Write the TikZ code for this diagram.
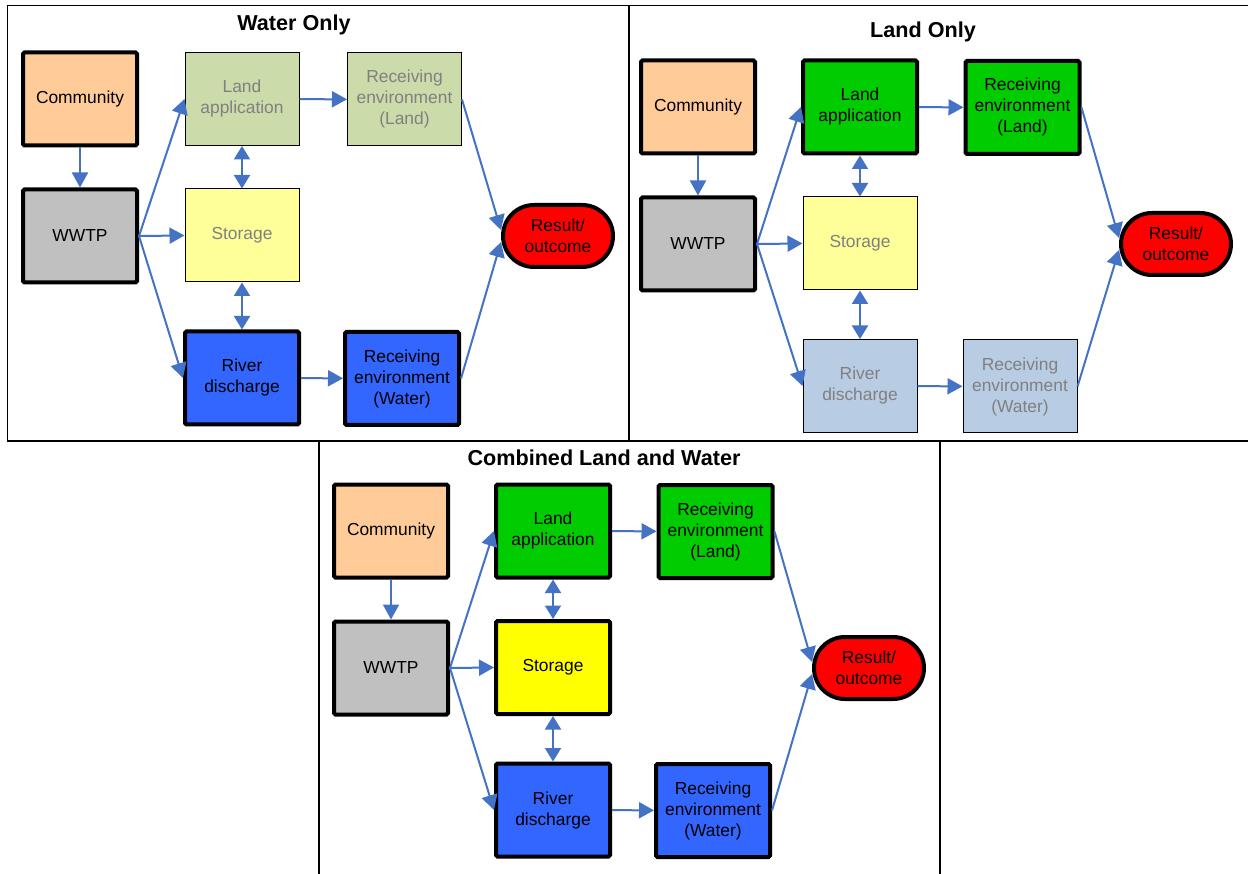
\documentclass[tikz,border=0pt]{standalone}
\usepackage{fontspec}
\setmainfont{Liberation Sans}
\usetikzlibrary{arrows.meta}
\definecolor{arrowblue}{RGB}{68,114,196}
\definecolor{compeach}{RGB}{255,204,153}
\definecolor{wwtpgrey}{RGB}{192,192,192}
\definecolor{landgreen}{RGB}{0,204,0}
\definecolor{landfade}{RGB}{204,219,170}
\definecolor{stfade}{RGB}{255,255,153}
\definecolor{stfull}{RGB}{255,255,0}
\definecolor{waterblue}{RGB}{51,102,255}
\definecolor{waterfade}{RGB}{184,204,228}
\definecolor{fadetext}{RGB}{128,128,128}
\definecolor{resred}{RGB}{255,0,0}
\tikzset{
  basebox/.style={rectangle, minimum width=114pt, minimum height=93pt, align=center,
    inner sep=0pt, font=\fontsize{17.4}{21}\selectfont},
  thickbox/.style={basebox, draw=black, line width=4pt, text=black, rounded corners=1.5pt},
  thinbox/.style={basebox, draw=black, line width=1pt, text=fadetext},
  combox/.style={thickbox, fill=compeach},
  wwtpbox/.style={thickbox, fill=wwtpgrey},
  landon/.style={thickbox, fill=landgreen},
  landoff/.style={thinbox, fill=landfade},
  ston/.style={thickbox, fill=stfull},
  stoff/.style={thinbox, fill=stfade},
  wateron/.style={thickbox, fill=waterblue},
  wateroff/.style={thinbox, fill=waterfade},
  resbox/.style={rectangle, minimum width=110pt, minimum height=62pt, rounded corners=30.9pt,
    draw=black, line width=4pt, fill=resred, align=center, inner sep=0pt,
    font=\fontsize{17.4}{21}\selectfont},
  flow/.style={draw=arrowblue, line width=2pt, -{Triangle[width=16pt,length=15pt]}},
  bi/.style={draw=arrowblue, line width=2pt,
    {Triangle[width=16pt,length=13.5pt]}-{Triangle[width=16pt,length=13.5pt]}},
  frame/.style={draw=black, line width=1.2pt},
  paneltitle/.style={anchor=base, inner sep=0pt, font=\fontsize{21.6}{26}\selectfont\bfseries}
}
\newcommand\drawpanel[5]{%
\begin{scope}[shift={(#2)}]
\node[combox] (#1com) at (80,99) {Community};
\node[wwtpbox] (#1wwtp) at (80,236) {WWTP};
\node[#3] (#1la) at (242,99) {Land\\application};
\node[#4] (#1st) at (242,235.5) {Storage};
\node[#5] (#1rd) at (242,378) {River\\discharge};
\node[#3] (#1rl) at (404.5,99.5) {Receiving\\environment\\(Land)};
\node[#5] (#1rw) at (402,378.5) {Receiving\\environment\\(Water)};
\node[resbox] (#1res) at (558,236) {Result/\\outcome};
\draw[flow] (#1com) -- (#1wwtp);
\draw[flow] (#1wwtp.east) -- (#1la.west);
\draw[flow] (#1wwtp.east) -- (#1st.west);
\draw[flow] (#1wwtp.east) -- (#1rd.west);
\draw[bi] (#1la) -- (#1st);
\draw[bi] (#1st) -- (#1rd);
\draw[flow] (#1la) -- (#1rl);
\draw[flow] (#1rd) -- (#1rw);
\draw[flow] (#1rl.east) -- (#1res.174);
\draw[flow] (#1rw.east) -- (#1res.186);
\end{scope}}
\begin{document}
\begin{tikzpicture}[x=1pt,y=-1pt]
\useasboundingbox (0,0) rectangle (1248,874);
\fill[white] (0,0) rectangle (1248,874);
% panel frames
\draw[frame] (7.7,5.7) rectangle (629,441);
\draw[frame] (629,5.7) -- (1252,5.7);
\draw[frame] (629,441) -- (1252,441);
\draw[frame] (319,441) -- (319,878);
\draw[frame] (940,441) -- (940,878);
% titles
\node[paneltitle] (t1) at (294,30.5) {Water Only};
\node[paneltitle] (t2) at (923,37.5) {Land Only};
\node[paneltitle] (t3) at (604,465.5) {Combined Land and Water};
% panels
\drawpanel{a}{0,0}{landoff}{stoff}{wateron}
\drawpanel{b}{618,8}{landon}{stoff}{wateroff}
\drawpanel{c}{311,432}{landon}{ston}{wateron}
\end{tikzpicture}
\end{document}
